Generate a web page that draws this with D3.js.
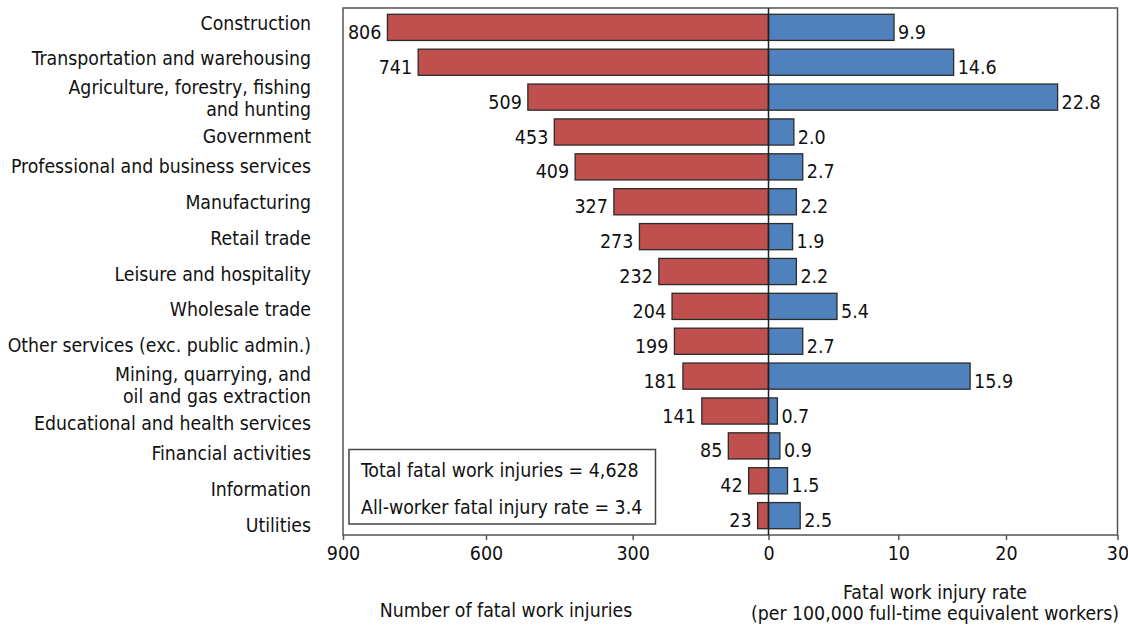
<!DOCTYPE html>
<html>
<head>
<meta charset="utf-8">
<script src="https://cdnjs.cloudflare.com/ajax/libs/d3/7.8.5/d3.min.js"></script>
<style>
  body { margin: 0; background: #fff; }
  text { font-family: "DejaVu Sans Condensed", "DejaVu Sans", sans-serif; fill: #111; }
</style>
</head>
<body>
<div id="chart"></div>
<script>
var categories = [
    ["Construction"],
    ["Transportation and warehousing"],
    ["Agriculture, forestry, fishing", "and hunting"],
    ["Government"],
    ["Professional and business services"],
    ["Manufacturing"],
    ["Retail trade"],
    ["Leisure and hospitality"],
    ["Wholesale trade"],
    ["Other services (exc. public admin.)"],
    ["Mining, quarrying, and", "oil and gas extraction"],
    ["Educational and health services"],
    ["Financial activities"],
    ["Information"],
    ["Utilities"]
];
var fatalCounts = [806, 741, 509, 453, 409, 327, 273, 232, 204, 199, 181, 141, 85, 42, 23];
var fatalRates = [9.9, 14.6, 22.8, 2.0, 2.7, 2.2, 1.9, 2.2, 5.4, 2.7, 15.9, 0.7, 0.9, 1.5, 2.5];
var countTicks = [900, 600, 300];
var rateTicks = [0, 10, 20, 30];
var noteLines = ["Total fatal work injuries = 4,628", "All-worker fatal injury rate = 3.4"];

var width = 1128,
    height = 630;

var plotLeft = 343, plotRight = 1117.5, plotTop = 8, plotBottom = 535, zero = 768.5;

var svg = d3.select("#chart")
    .append("svg")
    .attr("width", width)
    .attr("height", height);

var ids = categories.map(function(d, i) { return i; });

var y = d3.scaleBand()
    .domain(ids)
    .range([plotTop, plotBottom])
    .paddingInner(0.25)
    .paddingOuter(0.18);

var yLabel = d3.scalePoint()
    .domain(ids)
    .range([23, 525]);

// bars
var xCount = d3.scaleLinear().domain([0, 900]).range([zero, plotLeft]);
var xRate = d3.scaleLinear().domain([0, 10]).range([zero, 895.3]);

// tick positions in the original are not evenly spaced
var xCountAxis = d3.scaleLinear().domain([900, 600, 300, 0]).range([plotLeft, 486, 632.7, zero]);
var xRateAxis = d3.scaleLinear().domain([0, 10, 20, 30]).range([zero, 898.3, 1006, plotRight]);

svg.append("rect")
    .attr("x", plotLeft)
    .attr("y", plotTop)
    .attr("width", plotRight - plotLeft)
    .attr("height", plotBottom - plotTop)
    .style("fill", "none")
    .style("stroke", "#555")
    .style("stroke-width", 1.5);

var row = svg.selectAll(".row")
    .data(ids)
    .enter().append("g")
    .attr("class", "row");

row.append("rect")
    .attr("x", function(i) { return xCount(fatalCounts[i]); })
    .attr("y", function(i) { return y(i); })
    .attr("width", function(i) { return zero - xCount(fatalCounts[i]); })
    .attr("height", y.bandwidth())
    .style("fill", "#C0504D")
    .style("stroke", "#2b2b2b")
    .style("stroke-width", 1.3);

row.append("rect")
    .attr("x", zero)
    .attr("y", function(i) { return y(i); })
    .attr("width", function(i) { return xRate(fatalRates[i]) - zero; })
    .attr("height", y.bandwidth())
    .style("fill", "#4F81BD")
    .style("stroke", "#2b2b2b")
    .style("stroke-width", 1.3);

row.append("text")
    .attr("x", function(i) { return xCount(fatalCounts[i]) - 6; })
    .attr("y", function(i) { return y(i) + y.bandwidth() - 1.5; })
    .style("text-anchor", "end")
    .style("font-size", "19.5px")
    .text(function(i) { return fatalCounts[i]; });

row.append("text")
    .attr("x", function(i) { return xRate(fatalRates[i]) + 4; })
    .attr("y", function(i) { return y(i) + y.bandwidth() - 1.5; })
    .style("text-anchor", "start")
    .style("font-size", "19.5px")
    .text(function(i) { return d3.format(".1f")(fatalRates[i]); });

row.append("text")
    .attr("x", 311)
    .style("text-anchor", "end")
    .style("font-size", "19.3px")
    .selectAll("tspan")
    .data(function(i) {
        var lines = categories[i];
        var shift = lines.length > 1 ? 4 : 0;
        // push a label down when the one above it wraps to two lines
        if (i > 0 && categories[i - 1].length > 1) shift = 6;
        return lines.map(function(l, k) {
            return {text: l, y: yLabel(i) + 6.5 + shift + (k - (lines.length - 1) / 2) * 22.5};
        });
    })
    .enter().append("tspan")
    .attr("x", 311)
    .attr("y", function(d) { return d.y; })
    .text(function(d) { return d.text; });

svg.append("line")
    .attr("x1", zero).attr("x2", zero)
    .attr("y1", plotTop).attr("y2", plotBottom)
    .style("stroke", "#222")
    .style("stroke-width", 1.5);

svg.append("g")
    .attr("transform", "translate(0," + plotBottom + ")")
    .call(d3.axisBottom(xCountAxis).tickValues(countTicks).tickSize(5).tickPadding(6));

svg.append("g")
    .attr("transform", "translate(0," + plotBottom + ")")
    .call(d3.axisBottom(xRateAxis).tickValues(rateTicks).tickSize(5).tickPadding(6));

svg.selectAll(".domain").remove();
svg.selectAll(".tick line").style("stroke", "#555").style("stroke-width", 1.5);
svg.selectAll(".tick text")
    .style("font-size", "19.5px")
    .style("font-family", "'DejaVu Sans Condensed', 'DejaVu Sans', sans-serif")
    .attr("fill", "#111");

svg.append("text")
    .attr("x", 506)
    .attr("y", 617)
    .style("text-anchor", "middle")
    .style("font-size", "19.3px")
    .text("Number of fatal work injuries");

svg.append("text")
    .attr("x", 935)
    .attr("y", 599)
    .style("text-anchor", "middle")
    .style("font-size", "19.3px")
    .text("Fatal work injury rate");

svg.append("text")
    .attr("x", 935)
    .attr("y", 620)
    .style("text-anchor", "middle")
    .style("font-size", "19.3px")
    .text("(per 100,000 full-time equivalent workers)");

var note = svg.append("g");

note.append("rect")
    .attr("x", 349)
    .attr("y", 449.5)
    .attr("width", 306.5)
    .attr("height", 74.5)
    .style("fill", "#fff")
    .style("stroke", "#444")
    .style("stroke-width", 1.5);

note.selectAll("text")
    .data(noteLines)
    .enter().append("text")
    .attr("x", 361)
    .attr("y", function(d, i) { return 477 + i * 36.5; })
    .style("font-size", "19.4px")
    .text(function(d) { return d; });
</script>
</body>
</html>
